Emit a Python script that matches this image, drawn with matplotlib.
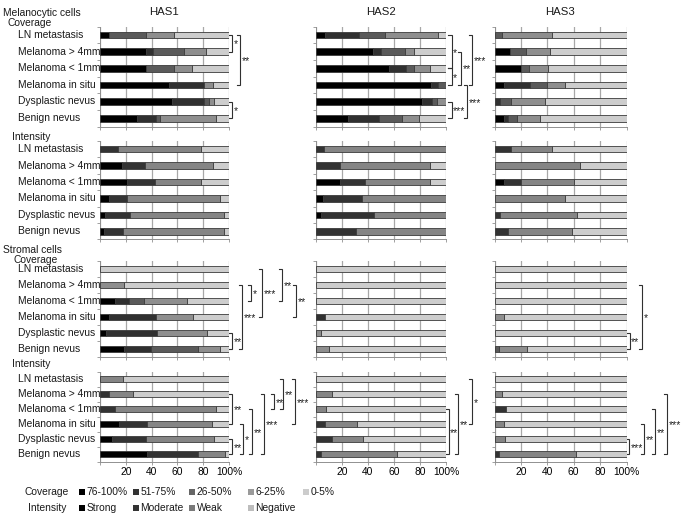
import numpy as np
import matplotlib
matplotlib.use("Agg")
import matplotlib.pyplot as plt
from matplotlib.patches import Rectangle
from matplotlib.transforms import blended_transform_factory

plt.rcParams['font.family'] = ['Liberation Sans', 'DejaVu Sans']

# ---------------- data ----------------
categories = ["LN metastasis", "Melanoma > 4mm", "Melanoma < 1mm",
              "Melanoma in situ", "Dysplastic nevus", "Benign nevus"]
genes = ["HAS1", "HAS2", "HAS3"]
coverage_labels = ["76-100%", "51-75%", "26-50%", "6-25%", "0-5%"]
intensity_labels = ["Strong", "Moderate", "Weak", "Negative"]
xtick_values = [0, 20, 40, 60, 80, 100]
xtick_labels = ["", "20", "40", "60", "80", "100%"]

# Melanocytic cells - coverage (76-100, 51-75, 26-50, 6-25, 0-5)
has1_mel_cov = [[7, 0, 28.5, 21.5, 43], [35.5, 5.5, 24, 17, 18], [35.5, 0, 21.5, 14.5, 28.5],
                [53.6, 26.7, 0, 7, 12.7], [56, 25, 3.5, 3.5, 12], [28.8, 14.5, 3.1, 43.6, 10]]
has2_mel_cov = [[6.8, 26.6, 19.8, 40.5, 6.3], [43.8, 6.3, 18.5, 6.6, 24.8], [56.5, 12.6, 6.1, 12.6, 12.2],
                [88.1, 6.1, 5.8, 0, 0], [81.8, 7.1, 4.0, 7.1, 0], [24.3, 24.1, 17.4, 13.2, 21]]
has3_mel_cov = [[0, 0, 6, 37.9, 56.1], [11.6, 0, 12.1, 18, 58.3], [20, 0, 6.5, 13.7, 59.8],
                [7, 19.7, 13.4, 13.4, 46.5], [0, 4.5, 8.1, 25.3, 62.1], [7, 3.6, 6.8, 17.4, 65.2]]
# Melanocytic cells - intensity (Strong, Moderate, Weak, Negative)
has1_mel_int = [[0, 14.2, 64, 21.8], [17.4, 17.3, 52.9, 12.4], [21, 21.7, 35.5, 21.8],
                [7, 14, 72, 7], [3.9, 19.7, 72.4, 4], [3.1, 14.5, 78.4, 4]]
has2_mel_int = [[0, 6.3, 93.7, 0], [0, 18.7, 68.9, 12.4], [18.7, 18.8, 50.1, 12.4],
                [5.6, 29.6, 64.8, 0], [3.8, 40.5, 55.7, 0], [0, 31.1, 68.9, 0]]
has3_mel_int = [[0, 12.8, 30.9, 56.3], [0, 0, 64.8, 35.2], [7, 13.1, 39.9, 40],
                [0, 0, 53.3, 46.7], [0, 4.5, 58.1, 37.4], [0, 10.3, 48.5, 41.2]]
# Stromal cells - coverage
has1_str_cov = [[0, 0, 0, 0, 100], [0, 0, 0, 18.9, 81.1], [11.7, 10.6, 11.6, 33.5, 32.6],
                [7.3, 36, 0, 28.5, 28.2], [4.7, 39.3, 0, 38.9, 17.1], [18.4, 21, 36.5, 16.8, 7.3]]
has2_str_cov = [[0, 0, 0, 0, 100], [0, 0, 0, 0, 100], [0, 0, 0, 0, 100],
                [0, 6.7, 0, 0, 93.3], [0, 0, 0, 4.1, 95.9], [0, 0, 0, 10.3, 89.7]]
has3_str_cov = [[0, 0, 0, 0, 100], [0, 0, 0, 0, 100], [0, 0, 0, 0, 100],
                [0, 0, 0, 7.4, 92.6], [0, 0, 0, 0, 100], [0, 0, 3.5, 20.8, 75.7]]
# Stromal cells - intensity
has1_str_int = [[0, 0, 17.6, 82.4], [0, 6.7, 18.7, 74.6], [0, 11.7, 78.2, 10.1],
                [14.8, 21.5, 50.5, 13.2], [9.3, 26.5, 52.5, 11.7], [36.5, 39.7, 20.7, 3.1]]
has2_str_int = [[0, 0, 0, 100], [0, 0, 12.4, 87.6], [0, 0, 7.8, 92.2],
                [0, 6.7, 24.6, 68.7], [0, 12.1, 23.8, 64.1], [0, 3.7, 58.3, 38]]
has3_str_int = [[0, 0, 0, 100], [0, 0, 5.7, 94.3], [0, 8.7, 0, 91.3],
                [0, 0, 7.2, 92.8], [0, 0, 8, 92], [0, 3.5, 58.6, 37.9]]

# significance brackets: (row index from, row index to, x position in %, label)
has1_mel_cov_sig = [(0, 1, 102.3, "*"), (0, 3, 108.5, "**"), (4, 5, 102.3, "*")]
has2_mel_cov_sig = [(0, 2, 104.4, "*"), (2, 3, 104.4, "*"), (1, 3, 111.5, "**"),
                    (0, 3, 120.0, "***"), (3, 5, 116.2, "***"), (4, 5, 104.4, "***")]
has1_str_cov_sig = [(1, 2, 117.0, "*"), (1, 5, 110.0, "***"), (4, 5, 102.3, "**"),
                    (0, 3, 125.6, "***"), (0, 2, 141.0, "**"), (1, 3, 151.9, "**")]
has1_str_int_sig = [(1, 3, 102.3, "**"), (3, 5, 110.9, "*"), (4, 5, 102.3, "**"),
                    (2, 5, 117.8, "**"), (1, 5, 127.1, "***"), (1, 2, 134.9, "**"),
                    (0, 2, 141.9, "**"), (0, 3, 151.2, "***")]
has2_str_int_sig = [(0, 3, 120.0, "*"), (1, 5, 109.2, "**"), (2, 5, 102.0, "**")]
has3_str_cov_sig = [(1, 5, 111.7, "*"), (4, 5, 102.3, "**")]
has3_str_int_sig = [(4, 5, 102.0, "***"), (3, 5, 113.3, "**"), (2, 5, 121.6, "**"), (1, 5, 130.7, "***")]

# ---------------- style ----------------
cov_colors = ["#000000", "#303030", "#5a5a5a", "#8e8e8e", "#cdcdcd"]
int_colors = ["#000000", "#333333", "#858585", "#cdcdcd"]
leg_cov_colors = ["#000000", "#333333", "#666666", "#9a9a9a", "#cccccc"]
leg_int_colors = ["#000000", "#333333", "#7a7a7a", "#bdbdbd"]

W, H = 685, 516
fig = plt.figure(figsize=(W / 100, H / 100), dpi=100)
FS = 7.4


def px_axes(x0, x1, ytop, ybot):
    return fig.add_axes([x0 / W, 1 - ybot / H, (x1 - x0) / W, (ybot - ytop) / H])


col_px = [(100, 229), (316, 446), (494.5, 626.5)]
row_px = [(26.5, 126.5), (141, 239.5), (261, 357), (371.5, 461.5)]

panels = [
    [has1_mel_cov, has2_mel_cov, has3_mel_cov],
    [has1_mel_int, has2_mel_int, has3_mel_int],
    [has1_str_cov, has2_str_cov, has3_str_cov],
    [has1_str_int, has2_str_int, has3_str_int],
]
panel_colors = [cov_colors, int_colors, cov_colors, int_colors]
sigs = {
    (0, 0): has1_mel_cov_sig, (0, 1): has2_mel_cov_sig,
    (2, 0): has1_str_cov_sig, (3, 0): has1_str_int_sig,
    (3, 1): has2_str_int_sig, (2, 2): has3_str_cov_sig, (3, 2): has3_str_int_sig,
}


def draw_bracket(ax, i, j, xv, label):
    tick = 2.6
    x_start = max(xv - tick, 100.0) if xv - tick < 101 else xv - tick
    ax.plot([x_start, xv, xv, x_start], [i, i, j, j], color="#303030", lw=0.8,
            clip_on=False, solid_joinstyle="miter")
    ax.text(xv + 1.2, (i + j) / 2 + 0.08, label, fontsize=7.5, ha="left", va="center",
            color="#202020", clip_on=False)


axes_grid = {}
for r, (yt, yb) in enumerate(row_px):
    for c, (x0, x1) in enumerate(col_px):
        ax = px_axes(x0, x1, yt, yb)
        axes_grid[(r, c)] = ax
        data = np.array(panels[r][c], dtype=float)
        cols = panel_colors[r]
        ypos = np.arange(len(categories))
        left = np.zeros(len(categories))
        for k in range(data.shape[1]):
            w = data[:, k]
            m = w > 0
            ax.barh(ypos[m], w[m], left=left[m], height=0.4, color=cols[k],
                    edgecolor="#3a3a3a", linewidth=0.6, zorder=3)
            left += w
        ax.set_xlim(0, 100)
        ax.set_ylim(len(categories) - 0.5, -0.5)
        ax.set_xticks(xtick_values)
        if r == 3:
            ax.set_xticklabels(xtick_labels, fontsize=FS)
        else:
            ax.set_xticklabels([])
        ax.set_yticks(np.arange(-0.5, len(categories), 1.0))
        ax.set_yticklabels([])
        ax.tick_params(axis="both", length=2.5, width=0.6, color="#909090", pad=1.5)
        ax.xaxis.grid(True, color="#a8a8a8", lw=0.9)
        ax.set_axisbelow(True)
        for s in ["top", "right"]:
            ax.spines[s].set_visible(False)
        for s in ["left", "bottom"]:
            ax.spines[s].set_color("#909090")
            ax.spines[s].set_linewidth(0.7)
        # category labels
        if c == 0:
            tr = blended_transform_factory(fig.transFigure, ax.transData)
            for yi, name in enumerate(categories):
                ax.text(18 / W, yi, name, transform=tr, fontsize=FS, ha="left",
                        va="center", color="#1a1a1a")
        if (r, c) in sigs:
            for (i, j, xv, lab) in sigs[(r, c)]:
                draw_bracket(ax, i, j, xv, lab)

# titles
for c, (x0, x1) in enumerate(col_px):
    fig.text(((x0 + x1) / 2) / W, 1 - 12 / H, genes[c], fontsize=8.2, ha="center",
             va="center", color="#1a1a1a")


def ftext(x, y, s, **kw):
    fig.text(x / W, 1 - y / H, s, fontsize=FS, va="center", color="#1a1a1a", **kw)


ftext(3, 13, "Melanocytic cells")
ftext(7, 23.5, "Coverage")
ftext(12, 137, "Intensity")
ftext(3, 250, "Stromal cells")
ftext(13, 260, "Coverage")
ftext(12, 364, "Intensity")

# legend
ftext(69, 492, "Coverage", ha="right")
ftext(66, 508, "Intensity", ha="right")
leg_x = [79, 133, 189, 248, 303]
for k, lab in enumerate(coverage_labels):
    fig.patches.append(Rectangle(((leg_x[k]) / W, 1 - (492 + 3) / H), 6 / W, 6 / H,
                                 transform=fig.transFigure, facecolor=leg_cov_colors[k],
                                 edgecolor="none"))
    ftext(leg_x[k] + 7.5, 492, lab, ha="left")
for k, lab in enumerate(intensity_labels):
    fig.patches.append(Rectangle(((leg_x[k]) / W, 1 - (508 + 3) / H), 6 / W, 6 / H,
                                 transform=fig.transFigure, facecolor=leg_int_colors[k],
                                 edgecolor="none"))
    ftext(leg_x[k] + 7.5, 508, lab, ha="left")

fig.savefig("out.png", dpi=100, facecolor="white")
